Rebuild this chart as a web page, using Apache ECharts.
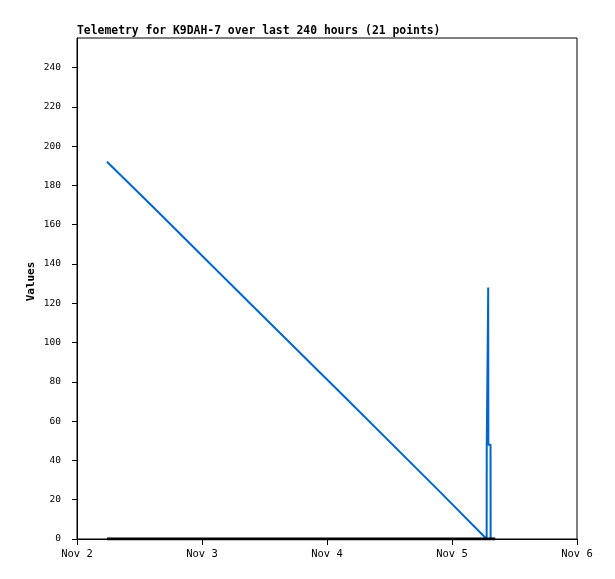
<!DOCTYPE html>
<html><head><meta charset="utf-8">
<script src="https://cdn.jsdelivr.net/npm/echarts@6/dist/echarts.min.js"></script>
<style>html,body{margin:0;padding:0;background:#fff}#c{width:615px;height:579px}</style>
</head><body><div id="c"></div>
<script>
// hours since Nov 2 00:00
const xTickLabels = ['Nov 2', 'Nov 3', 'Nov 4', 'Nov 5', 'Nov 6'];
const blueHours  = [5.76, 15.0, 33.2, 51.5, 69.7, 78.65, 78.67, 78.9, 78.95, 78.98, 79.4, 79.42];
const blueValues = [192, 168, 120, 72, 24, 0, 48, 112, 128, 48, 48, 0];
const blackHours  = [5.76, 80.3];
const blackValues = [0, 0];

const chart = echarts.init(document.getElementById('c'));
const mono = 'DejaVu Sans Mono, monospace';
chart.setOption({
  animation: false,
  backgroundColor: '#fff',
  title: {
    text: 'Telemetry for K9DAH-7 over last 240 hours (21 points)',
    left: 72, top: 21,
    textStyle: {fontFamily: mono, fontWeight: 'bold', fontSize: 11.4, color: '#000'}
  },
  grid: {left: 77, right: 38, top: 38, bottom: 40, show: true, borderColor: '#000', borderWidth: 1},
  xAxis: {
    type: 'value', min: 0, max: 96, interval: 24,
    axisLine: {lineStyle: {color: '#000', width: 1}},
    axisTick: {lineStyle: {color: '#000'}, length: 6},
    splitLine: {show: false},
    axisLabel: {
      fontFamily: mono, fontSize: 10.5, color: '#000', margin: 10,
      formatter: v => xTickLabels[Math.round(v / 24)]
    }
  },
  yAxis: {
    type: 'value', min: 0, max: 255, interval: 20,
    name: 'Values', nameLocation: 'middle', nameGap: 40, nameMoveOverlap: false,
    nameTextStyle: {fontFamily: mono, fontWeight: 'bold', fontSize: 11, color: '#000', padding: [0, 0, 0, 14]},
    axisLine: {show: true, lineStyle: {color: '#000', width: 1}},
    axisTick: {show: true, lineStyle: {color: '#000'}, length: 5},
    splitLine: {show: false},
    axisLabel: {fontFamily: mono, fontSize: 9.5, color: '#000', margin: 16, showMaxLabel: false}
  },
  series: [
    {
      type: 'line', data: blackHours.map((h, i) => [h, blackValues[i]]),
      symbol: 'none', lineStyle: {color: '#000', width: 3}, z: 3
    },
    {
      type: 'line', data: blueHours.map((h, i) => [h, blueValues[i]]),
      symbol: 'none', lineStyle: {color: '#0066cc', width: 2}, z: 2
    }
  ]
});
</script></body></html>
